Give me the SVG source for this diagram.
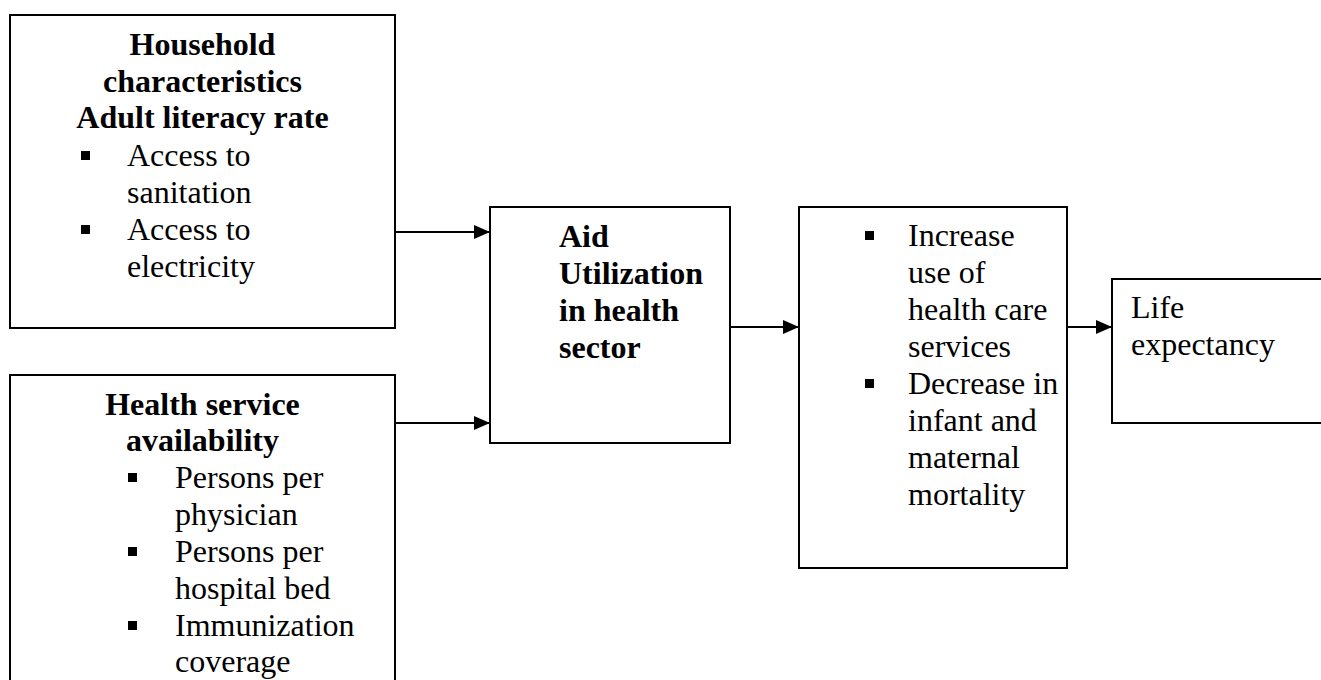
<svg xmlns="http://www.w3.org/2000/svg" width="1321" height="680" viewBox="0 0 1321 680">
<defs>
<marker id="arr" viewBox="0 0 16 14" refX="16" refY="7" markerWidth="16" markerHeight="14" markerUnits="userSpaceOnUse" orient="auto">
<path d="M0,0 L16,7 L0,14 Z" fill="#000"/>
</marker>
</defs>
<style>
.box{fill:#fff;stroke:#000;stroke-width:2}
.t{font-family:"Liberation Serif","Times New Roman",serif;font-size:32px;fill:#000}
.b{font-weight:bold}
.c{text-anchor:middle}
.bul{fill:#000}
.con{stroke:#000;stroke-width:2;fill:none;marker-end:url(#arr)}
</style>
<rect width="1321" height="680" fill="#fff"/>
<g id="household">
<rect class="box" x="10" y="15" width="385" height="313"/>
<text class="t b c" x="202.5" y="55">Household</text>
<text class="t b c" x="202.5" y="92">characteristics</text>
<text class="t b c" x="202.5" y="128">Adult literacy rate</text>
<rect class="bul" x="81" y="151" width="9" height="9"/>
<text class="t" x="127" y="166">Access to</text>
<text class="t" x="127" y="203">sanitation</text>
<rect class="bul" x="81" y="225" width="9" height="9"/>
<text class="t" x="127" y="240">Access to</text>
<text class="t" x="127" y="277">electricity</text>
</g>
<g id="health-service">
<rect class="box" x="10" y="375" width="385" height="320"/>
<text class="t b c" x="202.5" y="415">Health service</text>
<text class="t b c" x="202.5" y="451">availability</text>
<rect class="bul" x="128" y="473" width="9" height="9"/>
<text class="t" x="175" y="488">Persons per</text>
<text class="t" x="175" y="525">physician</text>
<rect class="bul" x="128" y="547" width="9" height="9"/>
<text class="t" x="175" y="562">Persons per</text>
<text class="t" x="175" y="599">hospital bed</text>
<rect class="bul" x="128" y="621" width="9" height="9"/>
<text class="t" x="175" y="636">Immunization</text>
<text class="t" x="175" y="672">coverage</text>
</g>
<g id="aid">
<rect class="box" x="490" y="207" width="240" height="236"/>
<text class="t b" x="559" y="247">Aid</text>
<text class="t b" x="559" y="284">Utilization</text>
<text class="t b" x="559" y="321">in health</text>
<text class="t b" x="559" y="358">sector</text>
</g>
<g id="outcomes">
<rect class="box" x="799" y="207" width="268" height="361"/>
<rect class="bul" x="865" y="231" width="9" height="9"/>
<text class="t" x="908" y="246">Increase</text>
<text class="t" x="908" y="283">use of</text>
<text class="t" x="908" y="320">health care</text>
<text class="t" x="908" y="357">services</text>
<rect class="bul" x="865" y="379" width="9" height="9"/>
<text class="t" x="908" y="394">Decrease in</text>
<text class="t" x="908" y="431">infant and</text>
<text class="t" x="908" y="468">maternal</text>
<text class="t" x="908" y="505">mortality</text>
</g>
<g id="life">
<rect class="box" x="1112" y="279" width="230" height="144"/>
<text class="t" x="1131" y="318">Life</text>
<text class="t" x="1131" y="355">expectancy</text>
</g>
<g id="connectors">
<line class="con" x1="395" y1="232" x2="490" y2="232"/>
<line class="con" x1="395" y1="423" x2="490" y2="423"/>
<line class="con" x1="730" y1="327" x2="799" y2="327"/>
<line class="con" x1="1067" y1="327" x2="1112" y2="327"/>
</g>
</svg>
